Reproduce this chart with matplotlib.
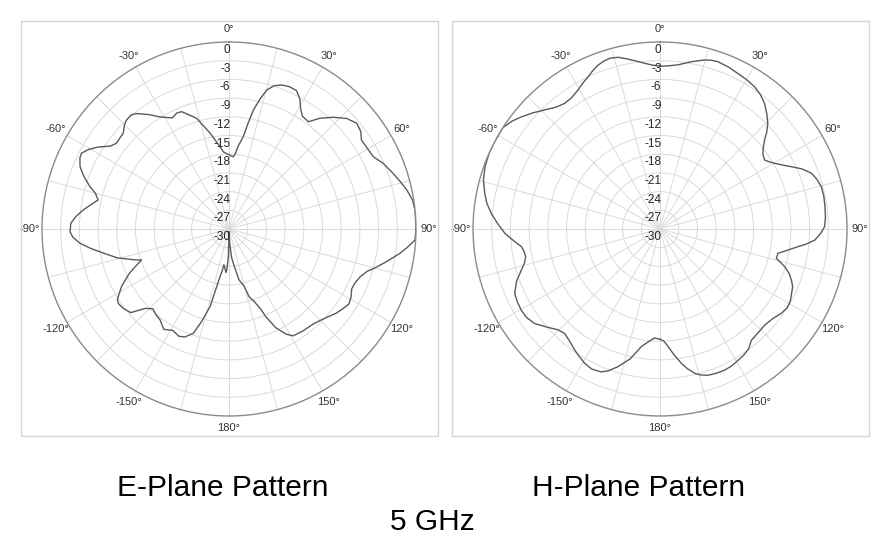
import numpy as np
import matplotlib.pyplot as plt
from matplotlib.patches import Rectangle

plt.rcParams["font.family"] = ["Liberation Sans", "DejaVu Sans"]

# E-plane pattern, angle in degrees (clockwise from top) and gain in dB
e_angles = [-180, -178.7, -177, -176, -174, -172, -170.5, -169.3, -166.3, -163.5,
            -161.1, -157.8, -155, -151, -147, -142.8, -140, -136.3, -133.5, -130.4,
            -127, -124, -122.3, -118, -114, -111, -109.5, -108, -104.5, -100.9,
            -98, -95.5, -93, -91, -88, -85.5, -82.6, -80, -77.5, -75,
            -73.1, -70, -67.3, -64.5, -62.8, -60.5, -58, -55, -52.7, -50,
            -47.8, -45, -43.2, -40.5, -38.6, -35, -31.6, -27, -24.3, -22,
            -19, -16.3, -11.2, -6.5, -4.2, 0, 3.3, 4.6, 6.5, 8.8,
            10.2, 11.6, 13.5, 15.2, 17.5, 20.1, 23, 26, 28.5, 30.7,
            33, 36.5, 39.4, 43, 46.8, 50.4, 53.5, 56.1, 60, 63.4,
            67, 71.3, 74.5, 77.6, 81, 84.2, 89.3, 93.4, 96, 98.1,
            100.5, 102.5, 105, 107, 110, 113, 116, 119, 122, 125,
            128, 133, 138, 144, 149, 151.5, 154.7, 157.3, 158.2, 160.5,
            163.5, 165.2, 168.9, 172, 174.7, 177, 180]
e_gain = [-29.5, -25.5, -23.5, -23.0, -23.7, -24.2, -23.0, -22.2, -17.2, -14.5,
          -12.3, -11.3, -11.0, -11.4, -10.8, -11.7, -11.9, -12.3, -11.5, -9.3,
          -8.8, -8.6, -8.8, -10.5, -12.5, -14.3, -15.1, -14.0, -11.5, -9.5,
          -7.6, -6.0, -4.9, -4.5, -4.6, -5.3, -6.4, -7.5, -8.5, -7.8,
          -6.7, -5.2, -4.1, -3.5, -3.4, -4.1, -5.2, -6.8, -7.3, -7.2,
          -7.1, -6.3, -6.0, -5.9, -6.3, -7.6, -8.9, -10.0, -9.6, -9.7,
          -10.7, -11.5, -14.3, -16.6, -17.6, -18.1, -18.4, -18.0, -16.5, -15.0,
          -12.8, -10.5, -8.5, -6.9, -5.9, -5.4, -5.2, -5.3, -6.2, -7.5,
          -8.4, -8.6, -7.0, -5.5, -4.1, -3.4, -3.7, -4.4, -4.3, -4.1,
          -3.1, -2.2, -1.5, -0.8, -0.2, 0.0, 0.0, -0.1, -1.3, -2.3,
          -3.6, -4.6, -5.8, -6.8, -7.6, -8.0, -8.1, -7.6, -7.3, -7.7,
          -8.1, -9.0, -9.6, -9.8, -10.0, -10.8, -12.5, -14.8, -16.0, -17.5,
          -18.7, -20.5, -21.7, -24.0, -25.3, -27.5, -29.5]

# H-plane pattern
h_angles = [-180, -177.2, -174, -171, -167, -163, -160, -157.6, -154, -150.7,
            -147.5, -144.8, -141, -137.6, -134.7, -131, -127, -123.5, -120.3, -117,
            -113.9, -110, -106.5, -104, -101.6, -99.5, -97.3, -94.5, -91.6, -88,
            -84.7, -81.5, -78.5, -74.5, -70.4, -66, -62.2, -57.2, -54, -51,
            -47.5, -44.1, -40.5, -37.2, -34, -30.5, -27.8, -25.3, -23, -20.7,
            -18.5, -16.4, -13.7, -11.5, -9.6, -7.5, -5.3, -2.5, 0, 2.8,
            6.3, 10.6, 14.8, 17, 19.1, 23, 26.6, 30, 33.6, 36.8,
            39.8, 42.8, 45.6, 47.8, 49.6, 52, 54, 56.6, 58.5, 60.2,
            62.5, 64.6, 67, 69.8, 72.5, 75.3, 78.5, 82.3, 86, 89.2,
            91.5, 94.1, 96, 97.3, 99.5, 101.7, 104.2, 106.8, 109, 111.2,
            113.5, 116.1, 119, 121.8, 124.8, 128.5, 132.5, 136.5, 140.6, 143.5,
            146.5, 149.2, 152.5, 155.4, 158.5, 161.8, 164.5, 166.5, 169, 171,
            173.5, 176.1, 178, 180]
h_gain = [-12.3, -12.5, -11.8, -10.9, -8.6, -6.9, -5.8, -5.2, -5.0, -5.3,
          -5.8, -6.25, -6.9, -7.3, -7.0, -6.0, -4.8, -4.3, -4.2, -4.3,
          -4.5, -5.5, -6.8, -7.6, -8.0, -7.9, -7.6, -6.4, -5.1, -3.9,
          -2.8, -1.9, -1.3, -0.6, -0.2, 0.0, 0.0, 0.0, -0.6, -1.4,
          -2.4, -3.4, -4.3, -4.7, -4.6, -4.1, -3.5, -3.0, -2.4, -1.9,
          -1.6, -1.45, -1.65, -2.1, -2.5, -2.9, -3.3, -3.7, -3.9, -3.8,
          -3.5, -2.7, -1.95, -1.7, -1.6, -1.8, -2.1, -2.3, -2.6, -3.1,
          -3.8, -4.8, -5.8, -6.9, -8.0, -9.0, -9.6, -9.9, -9.4, -8.8,
          -7.8, -6.7, -5.3, -4.1, -3.6, -3.25, -3.2, -3.3, -3.4, -3.6,
          -4.2, -5.1, -6.5, -7.7, -9.3, -10.7, -10.75, -9.1, -8.1, -7.4,
          -6.8, -6.5, -6.1, -6.0, -6.3, -6.9, -7.2, -7.1, -6.9, -6.1,
          -5.7, -5.5, -5.2, -5.1, -5.15, -5.3, -5.7, -6.2, -7.2, -8.2,
          -9.6, -11.1, -12.0, -12.3]

ring_levels = [0, -3, -6, -9, -12, -15, -18, -21, -24, -27, -30]
spoke_step = 15
label_step = 30

titles = ["E-Plane Pattern", "H-Plane Pattern"]
freq_label = "5 GHz"

fig = plt.figure(figsize=(8.89, 5.56), dpi=100)


def draw_pattern(ax, angles, gain):
    ax.set_theta_zero_location("N")
    ax.set_theta_direction(-1)
    ax.set_ylim(-30, 0)

    spokes = np.arange(0, 360, spoke_step)
    labels = []
    for a in spokes:
        if a % label_step:
            labels.append("")
        elif a <= 180:
            labels.append(f"{a}°")
        else:
            labels.append(f"{a - 360}°")
    ax.set_xticks(np.deg2rad(spokes))
    ax.set_xticklabels(labels, fontsize=8, color="#333333")
    ax.tick_params(axis="x", pad=-1.5)

    ax.set_yticks(ring_levels[1:-1])
    ax.set_yticklabels([])
    ax.grid(True, color="#dadada", lw=0.7)
    ax.spines["polar"].set_color("#8a8a8a")
    ax.spines["polar"].set_linewidth(1.0)

    for lvl in ring_levels:
        ax.annotate(str(lvl), xy=(0, lvl), xytext=(1, -1.5), textcoords="offset points",
                    ha="right", va="top", fontsize=8.5, color="#222222")

    ax.plot(np.deg2rad(angles), gain, color="#5a5a5a", lw=1.0)


ax_e = fig.add_axes([0.04724, 0.2518, 0.4207, 0.6727], projection="polar")
draw_pattern(ax_e, e_angles, e_gain)
ax_h = fig.add_axes([0.5321, 0.2518, 0.4207, 0.6727], projection="polar")
draw_pattern(ax_h, h_angles, h_gain)

# light frames around each chart
for x0 in (21, 452):
    fig.add_artist(Rectangle((x0 / 889, 1 - 436 / 556), 417 / 889, 415 / 556,
                             transform=fig.transFigure, fill=False,
                             edgecolor="#d4d4d4", lw=1.0))

fig.text(222.5 / 889, 1 - 496 / 556, titles[0], ha="center", va="baseline", fontsize=21.5)
fig.text(639 / 889, 1 - 496 / 556, titles[1], ha="center", va="baseline", fontsize=21.5)
fig.text(432 / 889, 1 - 530 / 556, freq_label, ha="center", va="baseline", fontsize=21.5)

fig.savefig("out.png", dpi=100)
